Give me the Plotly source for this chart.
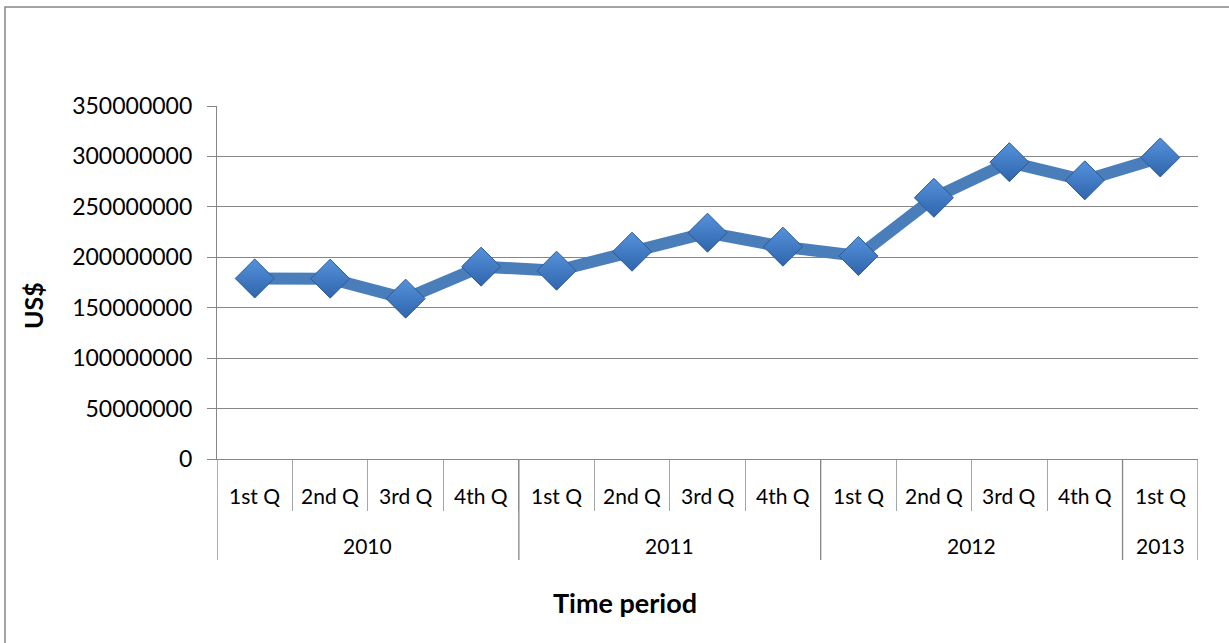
import plotly.graph_objects as go

# Quarterly values (US$)
years = ["2010", "2011", "2012", "2013"]
quarters = ["1st Q", "2nd Q", "3rd Q", "4th Q", "1st Q", "2nd Q", "3rd Q", "4th Q",
            "1st Q", "2nd Q", "3rd Q", "4th Q", "1st Q"]
quarter_year = ["2010"] * 4 + ["2011"] * 4 + ["2012"] * 4 + ["2013"]
values = [179000000, 178800000, 159000000, 190700000, 186700000, 205500000, 224400000,
          210500000, 201300000, 259000000, 294300000, 276300000, 299000000]
y_ticks = [0, 50000000, 100000000, 150000000, 200000000, 250000000, 300000000, 350000000]

W, H = 1229, 643
L, R, T, B = 217, 31, 106, 184
plot_w = W - L - R
plot_h = H - T - B

FONT = "Lato"
GRAY = "#868686"

xs = list(range(len(values)))

fig = go.Figure()
fig.add_trace(go.Scatter(
    x=xs, y=values, mode="lines+markers",
    line=dict(color="#4a7ebb", width=12),
    marker=dict(symbol="diamond", size=30, color="#5592dc",
                gradient=dict(type="vertical", color="#2f65ab"),
                line=dict(color="#2c5a91", width=1)),
    hoverinfo="skip", showlegend=False,
))


def py(px_below_axis):
    """Paper y for a pixel offset below the x-axis line."""
    return -px_below_axis / plot_h


def px_x(px):
    return (px - L) / plot_w


shapes = []
annotations = []

# Year groups: boundaries and labels
bounds = [-0.5]
for yv in years:
    idx = [i for i, q in enumerate(quarter_year) if q == yv]
    bounds.append(idx[-1] + 0.5)
    annotations.append(dict(x=(idx[0] + idx[-1]) / 2, xref="x", y=py(86), yref="paper",
                            text=yv, showarrow=False, xanchor="center", yanchor="middle",
                            font=dict(family=FONT, size=21, color="#000000")))
for b in bounds:
    shapes.append(dict(type="line", xref="x", yref="paper", x0=b, x1=b,
                       y0=0, y1=py(101), line=dict(color=GRAY, width=1.3)))

# Quarter labels
for i, q in enumerate(quarters):
    annotations.append(dict(x=i, xref="x", y=py(36), yref="paper", text=q,
                            showarrow=False, xanchor="center", yanchor="middle",
                            font=dict(family=FONT, size=21, color="#000000")))

# Axis titles
annotations.append(dict(x=px_x(625), xref="paper", y=py(143), yref="paper",
                        text="<b>Time period</b>", showarrow=False,
                        xanchor="center", yanchor="middle",
                        font=dict(family=FONT, size=27, color="#000000")))
annotations.append(dict(x=px_x(33), xref="paper", y=(459 - 306) / plot_h, yref="paper",
                        text="<b>US$</b>", showarrow=False, textangle=-90,
                        xanchor="center", yanchor="middle",
                        font=dict(family=FONT, size=25, color="#000000")))

# Chart border
shapes.append(dict(type="rect", xref="paper", yref="paper",
                   x0=px_x(5), x1=px_x(1240), y0=(459 - 7) / plot_h, y1=(459 - 660) / plot_h,
                   line=dict(color=GRAY, width=1.5), layer="below"))

fig.update_layout(
    width=W, height=H,
    margin=dict(l=L, r=R, t=T, b=B),
    paper_bgcolor="white", plot_bgcolor="white",
    shapes=shapes, annotations=annotations,
    xaxis=dict(range=[-0.5, len(values) - 0.5], showgrid=False, zeroline=False,
               showline=True, linecolor=GRAY, linewidth=1.3,
               tickmode="array", tickvals=[i + 0.5 for i in range(len(values) - 1)],
               ticktext=[""] * (len(values) - 1),
               ticks="outside", ticklen=51, tickcolor="#a6a6a6", tickwidth=1.3,
               showticklabels=False, fixedrange=True),
    yaxis=dict(range=[0, 350000000], tickmode="array", tickvals=y_ticks,
               ticktext=[str(v) for v in y_ticks],
               showgrid=True, gridcolor=GRAY, gridwidth=1.3, zeroline=False,
               showline=True, linecolor=GRAY, linewidth=1.3,
               ticks="outside", ticklen=9, tickcolor=GRAY, tickwidth=1.3,
               ticklabelstandoff=10,
               tickfont=dict(family=FONT, size=23, color="#000000"), fixedrange=True),
)

fig.write_html("out.html")
